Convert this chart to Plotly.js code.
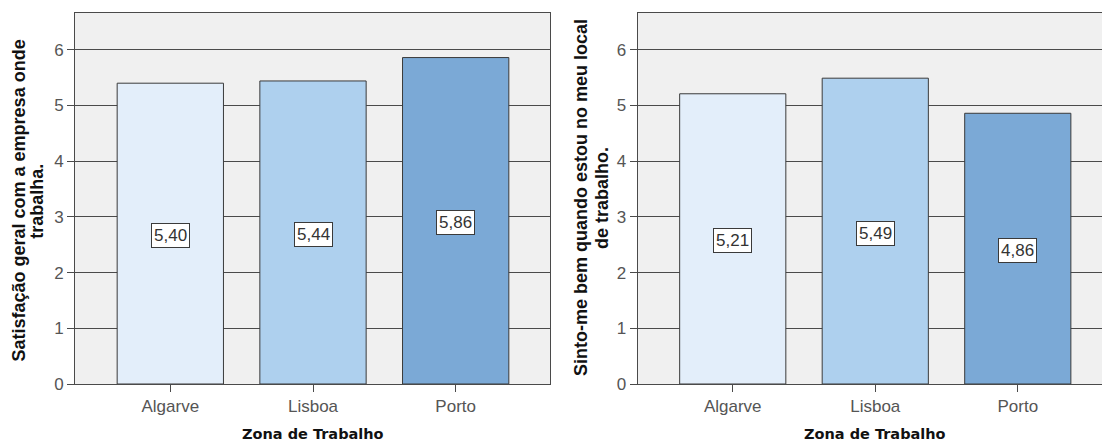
<!DOCTYPE html>
<html>
<head>
<meta charset="utf-8">
<script src="https://cdn.plot.ly/plotly-3.0.1.min.js"></script>
<style>
  html, body { margin: 0; padding: 0; background: #fff; }
  #chart { width: 1102px; height: 441px; }
</style>
</head>
<body>
<div id="chart"></div>
<script>
// Mean scores per work zone
const zones = ['Algarve', 'Lisboa', 'Porto'];
const satisfacaoGeral = [5.40, 5.44, 5.86];
const sintoMeBem = [5.21, 5.49, 4.86];
const yTickVals = [0, 1, 2, 3, 4, 5, 6];

const barColors = ['#E3EEFA', '#AED0EE', '#7BA9D6'];
const yTitleLeft = ['Satisfação geral com a empresa onde', 'trabalha.'];
const yTitleRight = ['Sinto-me bem quando estou no meu local', 'de trabalho.'];
const xTitle = 'Zona de Trabalho';

const W = 1102, H = 441, TOP = 13, BOTTOM = 384;
const px2x = p => p / W;
const px2y = p => (BOTTOM - p) / (BOTTOM - TOP);

const fmt = v => v.toFixed(2).replace('.', ',');

function barTrace(values, xa, ya) {
  return {
    type: 'bar',
    x: zones,
    y: values,
    xaxis: xa,
    yaxis: ya,
    width: 0.745,
    marker: { color: barColors, line: { color: '#3a3a3a', width: 1 } },
    hoverinfo: 'skip',
    showlegend: false
  };
}

function valueLabels(values, xref, yref) {
  return values.map((v, i) => ({
    xref: xref, yref: yref,
    x: zones[i], y: v / 2,
    yshift: -2,
    text: fmt(v),
    showarrow: false,
    bgcolor: '#ffffff',
    bordercolor: '#3a3a3a',
    borderwidth: 1,
    borderpad: 2,
    font: { family: 'Liberation Sans, Arial, sans-serif', size: 17, color: '#333' }
  }));
}

// Rotated two-line axis title, one annotation per line for tight line spacing
function yTitle(lines, xs, yc) {
  return lines.map((t, i) => ({
    xref: 'paper', yref: 'paper', x: px2x(xs[i]), y: px2y(yc),
    text: t, textangle: -90, showarrow: false,
    xanchor: 'center', yanchor: 'middle',
    font: { family: 'Liberation Sans, Arial, sans-serif', size: 18, color: '#111', weight: 'bold' }
  }));
}

const tickFont = { family: 'Liberation Sans, Arial, sans-serif', size: 17, color: '#555' };
const xTitleFont = { family: 'DejaVu Sans, sans-serif', size: 14.5, color: '#111', weight: 'bold' };

function xAxis(domain, range, anchor) {
  return {
    domain: domain,
    anchor: anchor,
    type: 'category',
    range: range,
    showgrid: false,
    zeroline: false,
    showline: true,
    mirror: true,
    linecolor: '#4a4a4a',
    linewidth: 1,
    ticks: 'outside',
    ticklen: 7,
    tickcolor: '#4a4a4a',
    tickfont: tickFont,
    fixedrange: true
  };
}

function yAxis(anchor, mirror) {
  return {
    anchor: anchor,
    domain: [0, 1],
    range: [0, 6.66],
    tickvals: yTickVals,
    showgrid: true,
    gridcolor: '#4a4a4a',
    gridwidth: 1,
    zeroline: false,
    showline: true,
    mirror: mirror,
    linecolor: '#4a4a4a',
    linewidth: 1,
    ticks: 'outside',
    ticklen: 7,
    tickcolor: '#4a4a4a',
    tickfont: tickFont,
    fixedrange: true
  };
}

const data = [
  barTrace(satisfacaoGeral, 'x', 'y'),
  barTrace(sintoMeBem, 'x2', 'y2')
];

const annotations = [
  ...valueLabels(satisfacaoGeral, 'x', 'y'),
  ...valueLabels(sintoMeBem, 'x2', 'y2'),
  ...yTitle(yTitleLeft, [18.5, 36.8], 201),
  ...yTitle(yTitleRight, [581, 602], 198),
  {
    xref: 'x', yref: 'paper', x: 1, y: px2y(434),
    text: xTitle, showarrow: false,
    xanchor: 'center', yanchor: 'middle', font: xTitleFont
  },
  {
    xref: 'x2', yref: 'paper', x: 1, y: px2y(434),
    text: xTitle, showarrow: false,
    xanchor: 'center', yanchor: 'middle', font: xTitleFont
  }
];

const layout = {
  width: W,
  height: H,
  margin: { l: 0, r: 0, t: TOP, b: H - BOTTOM, pad: 0 },
  paper_bgcolor: '#ffffff',
  plot_bgcolor: '#f0f0f0',
  showlegend: false,
  bargap: 0,
  xaxis: xAxis([px2x(75), px2x(550)], [-0.668, 2.661], 'y'),
  yaxis: yAxis('x', true),
  xaxis2: xAxis([px2x(637.7), 1], [-0.667, 2.591], 'y2'),
  yaxis2: yAxis('x2', false),
  annotations: annotations
};

Plotly.newPlot('chart', data, layout, { displayModeBar: false, staticPlot: true });
</script>
</body>
</html>
